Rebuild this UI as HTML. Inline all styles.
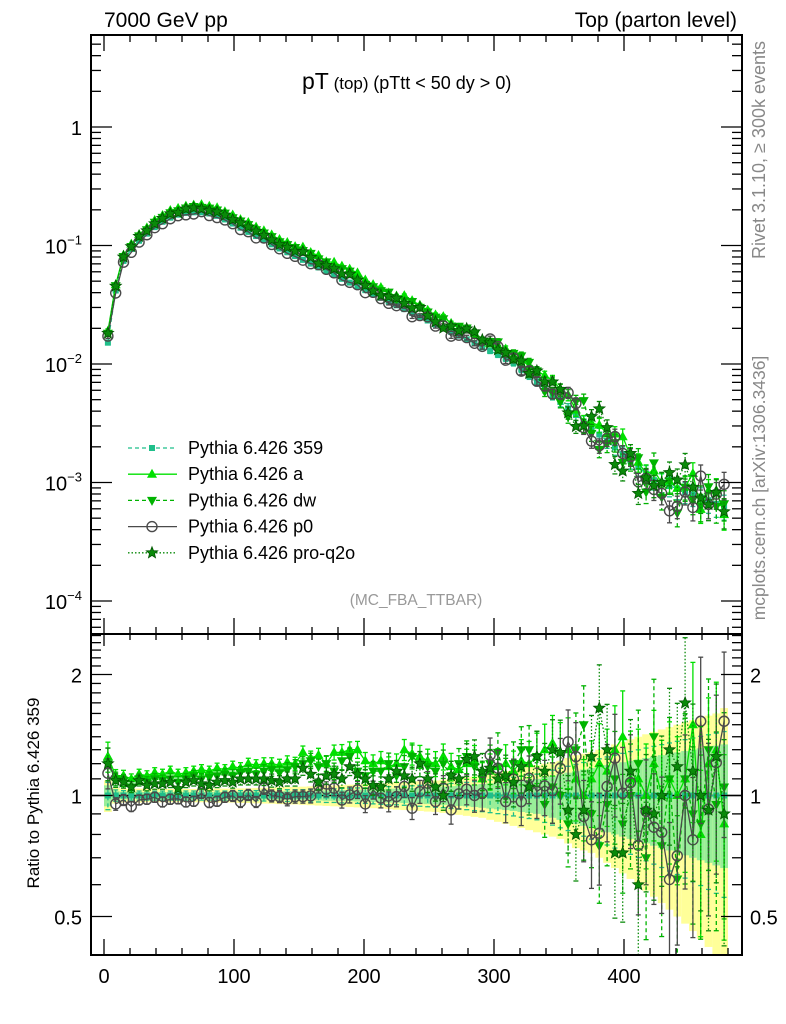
<!DOCTYPE html>
<html><head><meta charset="utf-8"><style>
html,body{margin:0;padding:0;background:#fff;}
svg{display:block;font-family:"Liberation Sans",sans-serif;}
</style></head><body>
<svg id="plot" width="786" height="1024" viewBox="0 0 786 1024" xmlns="http://www.w3.org/2000/svg">
<defs>
<clipPath id="clipMain"><rect x="92" y="36" width="650" height="598"/></clipPath>
<clipPath id="clipRatio"><rect x="92" y="635" width="650" height="320"/></clipPath>
</defs>
<g id="bands" clip-path="url(#clipRatio)"></g>
<g id="ratioMarks" clip-path="url(#clipRatio)"></g>
<g id="mainMarks" clip-path="url(#clipMain)"></g>
<g id="axes"></g>
<text x="104" y="27" font-size="21">7000 GeV pp</text>
<text x="737" y="27" font-size="21" text-anchor="end">Top (parton level)</text>
<text x="302" y="89"><tspan font-size="23">pT</tspan><tspan font-size="17"> (top) </tspan><tspan font-size="18">(pTtt &lt; 50 dy &gt; 0)</tspan></text>
<text x="416" y="605" font-size="15.5" fill="#999" text-anchor="middle">(MC_FBA_TTBAR)</text>
<text transform="translate(765,150) rotate(-90)" font-size="18" fill="#888" text-anchor="middle">Rivet 3.1.10, ≥ 300k events</text>
<text transform="translate(765,488) rotate(-90)" font-size="17.5" fill="#888" text-anchor="middle">mcplots.cern.ch [arXiv:1306.3436]</text>
<text transform="translate(39,793) rotate(-90)" font-size="17" text-anchor="middle">Ratio to Pythia 6.426 359</text>
<g id="legend"></g>
</svg>
<script>
// ---------- data ----------
const binWidth = 6;
const binCenters = [3,9,15,21,27,33,39,45,51,57,63,69,75,81,87,93,99,105,111,117,123,129,135,141,147,153,159,165,171,177,183,189,195,201,207,213,219,225,231,237,243,249,255,261,267,273,279,285,291,297,303,309,315,321,327,333,339,345,351,357,363,369,375,381,387,393,399,405,411,417,423,429,435,441,447,453,459,465,471,477];
// log10 of Pythia 6.426 359 dsigma/dpT
const ref359Log = [-1.82,-1.38,-1.13,-1.03,-0.96,-0.9,-0.845,-0.8,-0.765,-0.74,-0.725,-0.72,-0.72,-0.73,-0.75,-0.78,-0.815,-0.85,-0.885,-0.92,-0.955,-0.99,-1.025,-1.057,-1.089,-1.121,-1.153,-1.185,-1.217,-1.249,-1.281,-1.313,-1.345,-1.377,-1.409,-1.441,-1.473,-1.505,-1.537,-1.569,-1.601,-1.633,-1.665,-1.697,-1.729,-1.761,-1.793,-1.825,-1.857,-1.889,-1.921,-1.953,-1.99,-2.045,-2.1,-2.155,-2.21,-2.265,-2.32,-2.375,-2.43,-2.485,-2.54,-2.595,-2.65,-2.705,-2.76,-2.815,-2.87,-2.925,-2.98,-3.0,-3.03,-3.05,-3.08,-3.1,-3.13,-3.15,-3.18,-3.2];
const errYellow = [0.09,0.045,0.04,0.04,0.04,0.038,0.038,0.038,0.038,0.038,0.038,0.038,0.038,0.038,0.04,0.04,0.04,0.042,0.042,0.044,0.045,0.046,0.048,0.05,0.05,0.052,0.054,0.056,0.058,0.06,0.062,0.064,0.066,0.068,0.07,0.072,0.075,0.078,0.08,0.082,0.085,0.088,0.09,0.095,0.1,0.105,0.11,0.115,0.12,0.13,0.14,0.15,0.16,0.17,0.18,0.19,0.2,0.21,0.22,0.24,0.26,0.27,0.28,0.3,0.32,0.34,0.36,0.38,0.4,0.42,0.44,0.46,0.48,0.5,0.52,0.54,0.56,0.58,0.6,0.65];
const errGreen = [0.06,0.025,0.022,0.02,0.02,0.02,0.02,0.02,0.02,0.02,0.02,0.02,0.02,0.02,0.02,0.02,0.022,0.022,0.022,0.022,0.024,0.024,0.024,0.026,0.026,0.026,0.028,0.028,0.03,0.03,0.032,0.032,0.034,0.034,0.036,0.038,0.04,0.04,0.042,0.044,0.046,0.048,0.05,0.052,0.055,0.058,0.06,0.064,0.068,0.072,0.076,0.08,0.085,0.09,0.095,0.1,0.11,0.12,0.13,0.14,0.15,0.16,0.17,0.18,0.19,0.2,0.21,0.22,0.23,0.24,0.25,0.26,0.27,0.28,0.29,0.3,0.31,0.32,0.33,0.34];
const ratioA = [1.25,1.12,1.12,1.1,1.13,1.12,1.14,1.13,1.15,1.13,1.14,1.15,1.16,1.15,1.17,1.16,1.18,1.17,1.2,1.19,1.2,1.2,1.19,1.21,1.2,1.28,1.24,1.26,1.2,1.28,1.28,1.3,1.3,1.22,1.2,1.22,1.18,1.2,1.3,1.27,1.25,1.22,1.2,1.25,1.18,1.16,1.2,1.22,1.1,1.15,1.18,1.2,1.15,1.22,1.2,1.25,1.3,1.35,1.28,1.3,1.1,1.0,1.1,1.2,1.15,1.3,1.4,1.1,1.1,1.0,1.2,1.0,1.1,1.0,1.1,1.5,0.8,1.2,1.3,0.85];
const ratioDW = [1.2,1.1,1.09,1.05,1.1,1.08,1.1,1.09,1.1,1.08,1.1,1.12,1.1,1.11,1.12,1.13,1.12,1.14,1.15,1.13,1.15,1.16,1.14,1.16,1.18,1.2,1.22,1.18,1.2,1.15,1.22,1.25,1.15,1.12,1.15,1.15,1.2,1.12,1.18,1.25,1.2,1.18,1.15,1.2,1.12,1.2,1.25,1.18,1.1,1.2,1.28,1.1,1.2,1.3,1.3,1.25,0.95,1.05,1.0,0.85,1.3,1.5,0.9,0.75,0.95,1.1,0.85,1.0,1.2,0.7,1.4,0.75,1.1,0.62,1.1,0.9,0.85,1.3,0.95,1.05];
const ratioP0 = [1.136,0.953,0.975,0.939,0.975,0.979,0.99,0.964,0.979,0.981,0.964,0.968,1.013,0.961,0.968,0.99,0.998,0.964,1.004,0.964,1.043,0.998,0.994,0.979,0.994,0.994,0.998,1.057,1.037,1.043,0.975,1.004,1.033,0.953,1.033,0.985,0.966,0.994,1.053,0.93,1.023,1.073,0.966,1.043,0.921,1.01,1.037,1.0,1.013,1.26,1.169,0.966,1.098,0.966,1.104,1.023,1.057,1.029,1.169,1.36,1.25,0.887,0.776,0.806,1.053,1.238,1.013,1.077,0.752,0.913,0.834,0.81,0.618,0.708,1.0,0.776,1.53,0.925,1.207,1.53];
const ratioQ2O = [1.2,1.09,1.08,1.05,1.09,1.06,1.07,1.07,1.08,1.04,1.08,1.09,1.07,1.06,1.08,1.09,1.08,1.1,1.1,1.1,1.1,1.09,1.08,1.1,1.1,1.17,1.13,1.08,1.12,1.13,1.1,1.18,1.13,1.1,1.06,1.05,1.1,1.15,1.12,1.1,1.2,1.1,1.05,1.0,1.12,1.1,1.23,1.25,1.15,1.17,1.1,1.12,1.08,1.18,1.05,1.25,1.15,1.3,1.28,0.92,0.8,0.92,1.25,1.65,1.3,0.72,0.72,1.15,0.6,0.92,0.9,1.0,1.3,1.18,1.7,1.15,1.0,0.92,1.25,0.9];
const ratio359 = binCenters.map(()=>1);
const xTickLabels = [0,100,200,300,400];
const mainTickLabels = [0,-1,-2,-3,-4];
const ratioTickLabels = [0.5,1,2];
const legendNames = ["Pythia 6.426 359","Pythia 6.426 a","Pythia 6.426 dw","Pythia 6.426 p0","Pythia 6.426 pro-q2o"];

// ---------- axes functions ----------
const X0=91, X1=742, YT=35, YM=634, YB=955;
const xs = c => 104 + 1.3*c;
const ym = v => 127 - 118.5*Math.log10(v);
const yr = r => 795.5 - 402*Math.log10(r);
const NS="http://www.w3.org/2000/svg";
function mk(tag, attrs, parent){const e=document.createElementNS(NS,tag);for(const k in attrs)e.setAttribute(k,attrs[k]);parent.appendChild(e);return e;}

const axes=document.getElementById('axes');
let f1=mk('rect',{x:X0,y:YT,width:X1-X0,height:YM-YT,fill:'none',stroke:'#000','stroke-width':2},axes);


let f2=mk('rect',{x:X0,y:YM,width:X1-X0,height:YB-YM,fill:'none',stroke:'#000','stroke-width':2},axes);


function tick(x1,y1,x2,y2){mk('line',{x1,y1,x2,y2,stroke:'#000','stroke-width':1.3},axes);}
for(let v=0; v<=480; v+=20){
  const x=xs(v), major=(v%100===0), L=major?16:7;
  tick(x,YT,x,YT+L); tick(x,YM,x,YM-L); tick(x,YM,x,YM+(major?12:6)); tick(x,YB,x,YB-(major?16:7));
}
xTickLabels.forEach(v=>{
  const t=mk('text',{x:xs(v),y:983,'font-size':20,'text-anchor':'middle'},axes);
  t.textContent=v;
  
  
});
for(let d=-5; d<=0; d++){
  for(let m=1;m<10;m++){
    const v=m*Math.pow(10,d), y=ym(v);
    if(y<YT||y>YM) continue;
    const L=(m===1)?21:10;
    tick(X0,y,X0+L,y); tick(X1,y,X1-L,y);
  }
}
mainTickLabels.forEach(p=>{
  const t=mk('text',{x:82,y:ym(Math.pow(10,p))+8,'font-size':20,'text-anchor':'end'},axes);
  
  
  if(p===0){t.textContent='1';}
  else{ t.textContent='10'; const s=mk('tspan',{'font-size':13,dy:-9},t); s.textContent='−'+(-p); }
});
const rMinor=[0.4,0.6,0.7,0.8,0.9,1.1,1.2,1.3,1.4,1.5,1.6,1.7,1.8,1.9,2.1,2.2,2.3,2.4,2.5];
rMinor.forEach(r=>{const y=yr(r); if(y>YM&&y<YB){tick(X0,y,X0+10,y);tick(X1,y,X1-10,y);}});
ratioTickLabels.forEach(r=>{
  const y=yr(r); tick(X0,y,X0+21,y); tick(X1,y,X1-21,y);
  const t=mk('text',{x:82,y:y+8,'font-size':20,'text-anchor':'end'},axes); t.textContent=r;
  
  
  const t2=mk('text',{x:750,y:y+8,'font-size':20},axes); t2.textContent=r;
  
  
});

const bands=document.getElementById('bands');
binCenters.forEach((c,i)=>{
  const x=xs(c-binWidth/2), w=1.3*binWidth;
  const e=errYellow[i], g=errGreen[i];
  const ry=mk('rect',{x,y:yr(1+e),width:w,height:yr(Math.max(1-e,0.05))-yr(1+e),fill:'#ffff99'},bands);
  
  
  const rg=mk('rect',{x,y:yr(1+g),width:w,height:yr(1-g)-yr(1+g),fill:'#99ee99'},bands);
  
  
});
const ref1=mk('line',{x1:X0,y1:yr(1),x2:X1,y2:yr(1),stroke:'#000','stroke-width':1.5},bands);



const series=[
  {name:'359',ratio:ratio359,color:'#1fbf8a',dash:'4,3',marker:'square',ef:1.0},
  {name:'a',ratio:ratioA,color:'#00e000',dash:'',marker:'tri-up',ef:1.1},
  {name:'dw',ratio:ratioDW,color:'#00b300',dash:'4,3',marker:'tri-down',ef:1.2},
  {name:'p0',ratio:ratioP0,color:'#4a4a4a',dash:'',marker:'circle',ef:1.1},
  {name:'pro-q2o',ratio:ratioQ2O,color:'#0a8a0a',dash:'1.5,2',marker:'star',ef:1.2}
];
function marker(g,type,x,y,color){
  let e;
  if(type==='square') e=mk('rect',{x:x-3,y:y-3,width:6,height:6,fill:color},g);
  else if(type==='tri-up') e=mk('polygon',{points:`${x},${y-5.5} ${x-5},${y+3.5} ${x+5},${y+3.5}`,fill:color},g);
  else if(type==='tri-down') e=mk('polygon',{points:`${x},${y+5.5} ${x-5},${y-3.5} ${x+5},${y-3.5}`,fill:color},g);
  else if(type==='circle') e=mk('circle',{cx:x,cy:y,r:5,fill:'none',stroke:color,'stroke-width':1.4},g);
  else {
    let p=[];for(let k=0;k<10;k++){const a=-Math.PI/2+k*Math.PI/5, r=(k%2===0)?6:2.6;p.push((x+r*Math.cos(a)).toFixed(1)+','+(y+r*Math.sin(a)).toFixed(1));}
    e=mk('polygon',{points:p.join(' '),fill:color,stroke:'#005500','stroke-width':0.8},g);
  }
  return e;
}
function drawSeries(parentId, yfun, valfun, errScale){
  const parent=document.getElementById(parentId);
  series.forEach(s=>{
    const g=mk('g',{},parent);
    
    
    const pts=binCenters.map((c,i)=>[xs(c), yfun(valfun(s,i))]);
    mk('polyline',{points:pts.map(p=>p[0].toFixed(1)+','+p[1].toFixed(1)).join(' '),fill:'none',stroke:s.color,'stroke-width':1.3,'stroke-dasharray':s.dash},g);
    binCenters.forEach((c,i)=>{
      const v=valfun(s,i), e=errGreen[i]*s.ef*errScale, x=xs(c);
      const y1=yfun(v*(1+e)), y2=yfun(Math.max(v*(1-e),v*0.05));
      if(y2-y1>3){
        mk('line',{x1:x,y1:y1,x2:x,y2:y2,stroke:s.color,'stroke-width':1.3,'stroke-dasharray':s.dash},g);
        mk('line',{x1:x-2.5,y1:y1,x2:x+2.5,y2:y1,stroke:s.color,'stroke-width':1.3},g);
        mk('line',{x1:x-2.5,y1:y2,x2:x+2.5,y2:y2,stroke:s.color,'stroke-width':1.3},g);
      }
      const m=marker(g,s.marker,x,yfun(v),s.color);
      
      
    });
  });
}
drawSeries('mainMarks', ym, (s,i)=>Math.pow(10,ref359Log[i])*s.ratio[i], 0.7);
drawSeries('ratioMarks', yr, (s,i)=>s.ratio[i], 1.3);

const leg=document.getElementById('legend');
legendNames.forEach((n,k)=>{
  const s=series[k], y=448+26.2*k;
  const g=mk('g',{},leg);
  
  
  mk('line',{x1:128,y1:y,x2:177,y2:y,stroke:s.color,'stroke-width':1.3,'stroke-dasharray':s.dash},g);
  marker(g,s.marker,152,y,s.color);
  const t=mk('text',{x:188,y:y+6,'font-size':18},g); t.textContent=n;
});
</script>
</body></html>
